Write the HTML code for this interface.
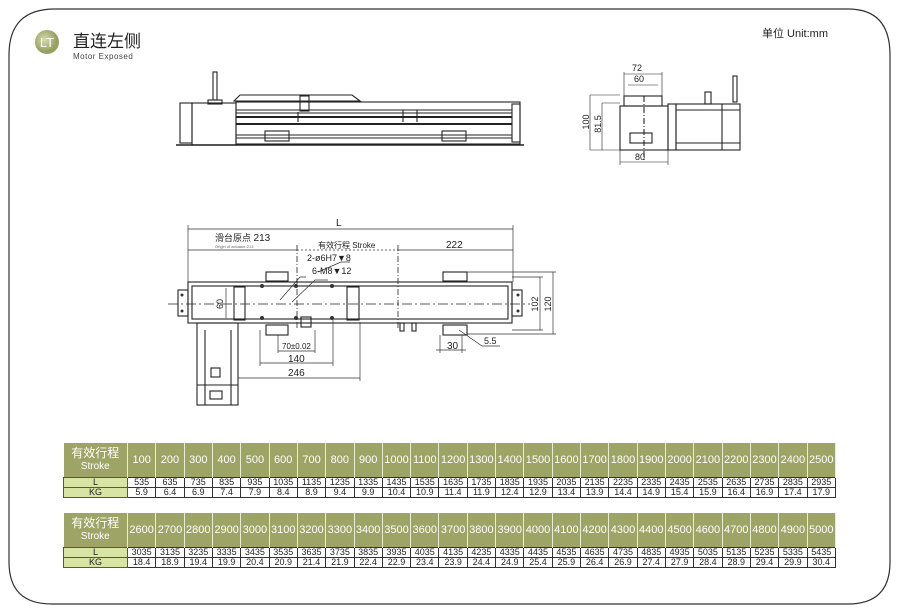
<!DOCTYPE html>
<html><head><meta charset="utf-8"><style>
body{margin:0;width:897px;height:613px;background:#fff;position:relative;overflow:hidden;font-family:"Liberation Sans","Noto Sans CJK SC",sans-serif}
svg{position:absolute;left:0;top:0}
table{position:absolute;left:63px;border-collapse:collapse;table-layout:fixed;width:773px;font-family:"Liberation Sans","Noto Sans CJK SC",sans-serif}
td{padding:0;text-align:center;overflow:hidden;white-space:nowrap}
tr.h td{background:#9ea465;color:#fff;height:34px;font-size:11px;border-right:1px solid #e8ecd0}
tr.h td.lab{font-size:12px;line-height:12px}
tr.d td{height:9px;font-size:9px;line-height:9px;border:1px solid #333;color:#222}
tr.d td.lab{background:#d8e4a4;border-color:#555}
</style></head><body>
<svg width="897" height="613" viewBox="0 0 897 613" font-family="Liberation Sans, Noto Sans CJK SC, sans-serif">
<path d="M9 562 L9 55 Q9 9 55 9 L848 9 Q890 9 890 55 L890 562 Q890 604 848 604 L52 604 Q9 604 9 562 Z" fill="none" stroke="#333" stroke-width="1.2"/>
<defs><radialGradient id="g" cx="0.4" cy="0.4"><stop offset="0" stop-color="#d6dcb0"/><stop offset="1" stop-color="#98a060"/></radialGradient></defs>
<circle cx="47" cy="42" r="12" fill="url(#g)"/>
<text x="47" y="47" font-size="13" fill="#fff" text-anchor="middle">LT</text>
<text x="73" y="47" font-size="17" fill="#222">直连左侧</text>
<text x="73" y="59" font-size="8" fill="#444" letter-spacing="0.5">Motor Exposed</text>
<text x="762" y="37" font-size="11" fill="#222">单位 Unit:mm</text>
<g stroke="#222" fill="none" stroke-width="1.1">
<rect x="213" y="72" width="4" height="28"/><rect x="208" y="100" width="14" height="4"/>
<rect x="180" y="103" width="12" height="40"/><rect x="192" y="103" width="44" height="42"/>
<rect x="236" y="102" width="284" height="42"/><rect x="512" y="104" width="8" height="38"/>
<line x1="176" y1="145" x2="524" y2="145" stroke-width="1.6"/>
<path d="M234 101 L240 95 L352 95 L360 101 Z"/>
<line x1="236" y1="110" x2="512" y2="110"/><line x1="236" y1="113" x2="512" y2="113"/>
<line x1="236" y1="117" x2="512" y2="117" stroke-width="2"/><line x1="236" y1="124" x2="512" y2="124" stroke-width="2"/>
<line x1="236" y1="135" x2="512" y2="135"/><line x1="236" y1="138" x2="512" y2="138"/>
<rect x="300" y="96" width="9" height="15"/><rect x="265" y="131" width="24" height="10"/><rect x="442" y="131" width="24" height="10"/>
<line x1="298" y1="112" x2="298" y2="122"/><line x1="403" y1="110" x2="403" y2="122"/><line x1="417" y1="110" x2="417" y2="122"/>
<rect x="624" y="96" width="38" height="10"/><rect x="620" y="106" width="48" height="44"/>
<rect x="668" y="104" width="8" height="46"/><rect x="676" y="104" width="64" height="46"/>
<line x1="676" y1="110" x2="740" y2="110"/><line x1="676" y1="143" x2="740" y2="143"/>
<line x1="722" y1="104" x2="722" y2="150"/><rect x="733" y="76" width="4" height="26"/><rect x="705" y="92" width="6" height="12"/>
<rect x="630" y="133" width="22" height="10"/>
<line x1="644" y1="96" x2="644" y2="160" stroke-dasharray="6 2 1 2"/>
<line x1="624" y1="72" x2="624" y2="96" stroke-width="0.6"/><line x1="662" y1="72" x2="662" y2="96" stroke-width="0.6"/>
<line x1="624" y1="74" x2="662" y2="74" stroke-width="0.6"/><line x1="628" y1="85" x2="658" y2="85" stroke-width="0.6"/>
<line x1="590" y1="95" x2="620" y2="95" stroke-width="0.6"/><line x1="602" y1="103" x2="620" y2="103" stroke-width="0.6"/>
<line x1="590" y1="150" x2="620" y2="150" stroke-width="0.6"/>
<line x1="590" y1="95" x2="590" y2="150" stroke-width="0.6"/><line x1="602" y1="103" x2="602" y2="150" stroke-width="0.6"/>
<line x1="620" y1="150" x2="620" y2="165" stroke-width="0.6"/><line x1="668" y1="150" x2="668" y2="165" stroke-width="0.6"/>
<line x1="620" y1="162" x2="668" y2="162" stroke-width="0.6"/>
<rect x="188" y="282" width="324" height="41"/><rect x="192" y="286" width="316" height="33"/>
<rect x="178" y="290" width="10" height="26"/><rect x="512" y="290" width="10" height="26"/>
<rect x="234" y="287" width="11" height="33"/><rect x="347" y="287" width="12" height="33"/>
<rect x="197" y="323" width="41" height="82"/><line x1="205" y1="330" x2="205" y2="405"/><line x1="231" y1="330" x2="231" y2="405"/>
<line x1="197" y1="385" x2="238" y2="385"/><rect x="211" y="368" width="9" height="9"/><rect x="210" y="391" width="12" height="8"/>
<rect x="266" y="272" width="22" height="9"/><rect x="443" y="272" width="24" height="9"/>
<rect x="266" y="325" width="22" height="10"/><rect x="443" y="325" width="24" height="10"/>
<rect x="301" y="317" width="10" height="10"/><rect x="400" y="323" width="4" height="8"/><rect x="412" y="323" width="4" height="8"/>
<line x1="168" y1="304" x2="530" y2="304" stroke-dasharray="10 3 2 3" stroke-width="0.8"/>
<line x1="297" y1="245" x2="297" y2="330" stroke-dasharray="6 2 1 2" stroke-width="0.8"/>
<line x1="398" y1="245" x2="398" y2="330" stroke-dasharray="6 2 1 2" stroke-width="0.8"/>
</g>
<g fill="#333">
<circle cx="262" cy="286" r="2"/><circle cx="262" cy="318" r="2"/><circle cx="296" cy="286" r="2"/><circle cx="296" cy="318" r="2"/><circle cx="332" cy="286" r="2"/><circle cx="332" cy="318" r="2"/>
<circle cx="182" cy="295" r="1.5"/><circle cx="182" cy="311" r="1.5"/><circle cx="518" cy="295" r="1.5"/><circle cx="518" cy="311" r="1.5"/>
</g>
<g stroke="#333" stroke-width="0.7" fill="none">
<line x1="188" y1="229" x2="513" y2="229"/><line x1="188" y1="225" x2="188" y2="282"/><line x1="513" y1="225" x2="513" y2="282"/>
<line x1="188" y1="250" x2="297" y2="250"/><line x1="398" y1="250" x2="513" y2="250"/><line x1="297" y1="250" x2="398" y2="250" stroke-dasharray="2 2"/>
<line x1="467" y1="272" x2="556" y2="272"/><line x1="467" y1="334" x2="556" y2="334"/>
<line x1="512" y1="277" x2="543" y2="277"/><line x1="512" y1="330" x2="543" y2="330"/>
<line x1="540" y1="277" x2="540" y2="330"/><line x1="553" y1="272" x2="553" y2="334"/>
<line x1="226" y1="288" x2="226" y2="318"/>
<line x1="278" y1="335" x2="278" y2="353"/><line x1="315" y1="330" x2="315" y2="353"/><line x1="278" y1="351" x2="315" y2="351"/>
<line x1="260" y1="330" x2="260" y2="366"/><line x1="333" y1="320" x2="333" y2="366"/><line x1="260" y1="363" x2="333" y2="363"/>
<line x1="238" y1="378" x2="360" y2="378"/><line x1="360" y1="322" x2="360" y2="381"/>
<line x1="440" y1="335" x2="440" y2="353"/><line x1="462" y1="335" x2="462" y2="353"/><line x1="436" y1="350" x2="466" y2="350"/>
<path d="M459 330 L482 346 L500 346"/>
<path d="M280 300 L300 277 L306 277"/><path d="M292 302 L315 280 L328 280"/>
<path d="M318 272 L341 262 L350 262"/>
</g>
<g font-size="10" fill="#222">
<text x="336" y="226">L</text>
<text x="215" y="241" font-size="9">滑台原点 <tspan font-size="10">213</tspan></text>
<text x="215" y="248" font-size="4" fill="#666">Origin of actuator:213</text>
<text x="318" y="248" font-size="8">有效行程 Stroke</text>
<text x="446" y="248">222</text>
<text x="307" y="261" font-size="9">2-ø6H7▼8</text>
<text x="312" y="274" font-size="9">6-M8▼12</text>
<text x="282" y="349" font-size="8">70±0.02</text>
<text x="288" y="362">140</text><text x="288" y="376">246</text>
<text x="447" y="349">30</text><text x="484" y="344" font-size="9">5.5</text>
<text x="632" y="71" font-size="9">72</text><text x="634" y="82" font-size="9">60</text><text x="635" y="160" font-size="9">80</text>
<text transform="translate(589,122) rotate(-90)" font-size="9" text-anchor="middle">100</text>
<text transform="translate(601,124) rotate(-90)" font-size="9" text-anchor="middle">81.5</text>
<text transform="translate(538,304) rotate(-90)" font-size="9" text-anchor="middle">102</text>
<text transform="translate(551,304) rotate(-90)" font-size="9" text-anchor="middle">120</text>
<text transform="translate(223,304) rotate(-90)" font-size="9" text-anchor="middle">60</text>
</g>
</svg>
<table style="top:443px">
<colgroup><col style="width:64px"><col span="24"></colgroup>
<tr class="h"><td class="lab">有效行程<br><span style="font-size:10px">Stroke</span></td><td>100</td><td>200</td><td>300</td><td>400</td><td>500</td><td>600</td><td>700</td><td>800</td><td>900</td><td>1000</td><td>1100</td><td>1200</td><td>1300</td><td>1400</td><td>1500</td><td>1600</td><td>1700</td><td>1800</td><td>1900</td><td>2000</td><td>2100</td><td>2200</td><td>2300</td><td>2400</td><td>2500</td></tr>
<tr class="d"><td class="lab">L</td><td>535</td><td>635</td><td>735</td><td>835</td><td>935</td><td>1035</td><td>1135</td><td>1235</td><td>1335</td><td>1435</td><td>1535</td><td>1635</td><td>1735</td><td>1835</td><td>1935</td><td>2035</td><td>2135</td><td>2235</td><td>2335</td><td>2435</td><td>2535</td><td>2635</td><td>2735</td><td>2835</td><td>2935</td></tr>
<tr class="d"><td class="lab">KG</td><td>5.9</td><td>6.4</td><td>6.9</td><td>7.4</td><td>7.9</td><td>8.4</td><td>8.9</td><td>9.4</td><td>9.9</td><td>10.4</td><td>10.9</td><td>11.4</td><td>11.9</td><td>12.4</td><td>12.9</td><td>13.4</td><td>13.9</td><td>14.4</td><td>14.9</td><td>15.4</td><td>15.9</td><td>16.4</td><td>16.9</td><td>17.4</td><td>17.9</td></tr>
</table>
<table style="top:513px">
<colgroup><col style="width:64px"><col span="24"></colgroup>
<tr class="h"><td class="lab">有效行程<br><span style="font-size:10px">Stroke</span></td><td>2600</td><td>2700</td><td>2800</td><td>2900</td><td>3000</td><td>3100</td><td>3200</td><td>3300</td><td>3400</td><td>3500</td><td>3600</td><td>3700</td><td>3800</td><td>3900</td><td>4000</td><td>4100</td><td>4200</td><td>4300</td><td>4400</td><td>4500</td><td>4600</td><td>4700</td><td>4800</td><td>4900</td><td>5000</td></tr>
<tr class="d"><td class="lab">L</td><td>3035</td><td>3135</td><td>3235</td><td>3335</td><td>3435</td><td>3535</td><td>3635</td><td>3735</td><td>3835</td><td>3935</td><td>4035</td><td>4135</td><td>4235</td><td>4335</td><td>4435</td><td>4535</td><td>4635</td><td>4735</td><td>4835</td><td>4935</td><td>5035</td><td>5135</td><td>5235</td><td>5335</td><td>5435</td></tr>
<tr class="d"><td class="lab">KG</td><td>18.4</td><td>18.9</td><td>19.4</td><td>19.9</td><td>20.4</td><td>20.9</td><td>21.4</td><td>21.9</td><td>22.4</td><td>22.9</td><td>23.4</td><td>23.9</td><td>24.4</td><td>24.9</td><td>25.4</td><td>25.9</td><td>26.4</td><td>26.9</td><td>27.4</td><td>27.9</td><td>28.4</td><td>28.9</td><td>29.4</td><td>29.9</td><td>30.4</td></tr>
</table>
</body></html>
